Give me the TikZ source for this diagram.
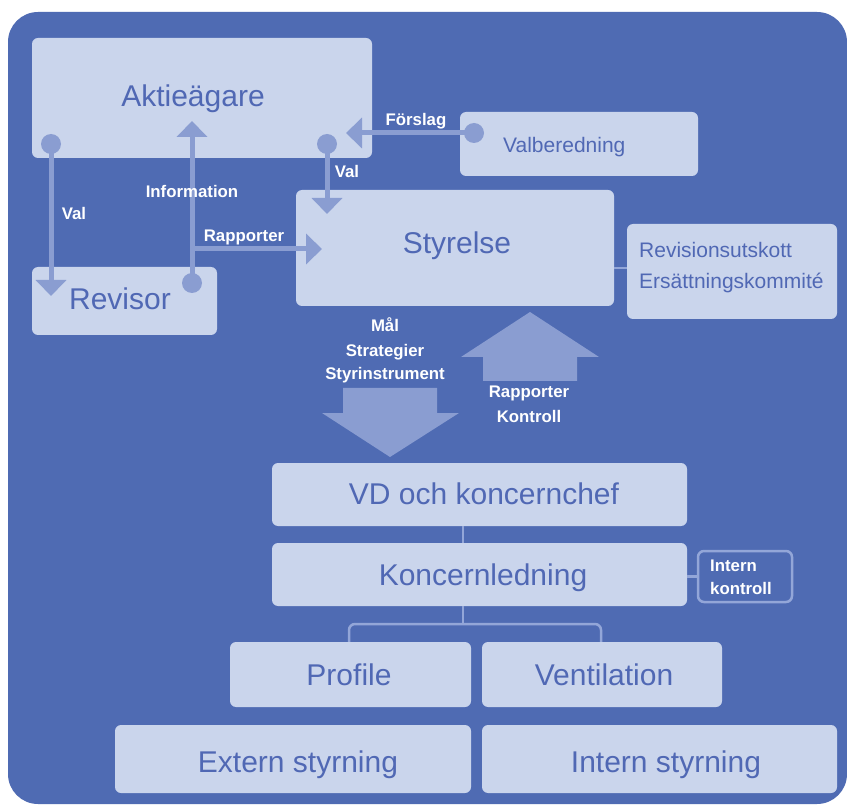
\documentclass[tikz,border=0pt]{standalone}
\usepackage{fontspec}
\setmainfont{Liberation Sans}
\usetikzlibrary{arrows.meta}
\definecolor{bgblue}{HTML}{4F6BB3}
\definecolor{boxfill}{HTML}{CAD5EC}
\definecolor{arrowc}{HTML}{8A9DD1}
\definecolor{boxtext}{HTML}{5068B4}
\definecolor{linec}{HTML}{93A6D8}
\tikzset{
  box/.style={fill=boxfill, draw=none, rounded corners=6pt},
  big/.style={text=boxtext, font=\fontsize{30}{32}\selectfont, anchor=base, inner sep=0pt},
  mid/.style={text=boxtext, font=\fontsize{21}{24}\selectfont, anchor=base west, inner sep=0pt},
  lbl/.style={text=white, font=\bfseries\fontsize{16.8}{24}\selectfont, anchor=base, inner sep=0pt},
  flow/.style={draw=arrowc, line width=5pt, -{Triangle[width=30pt,length=16pt]}},
  dot/.style={circle, fill=arrowc, minimum size=20pt, inner sep=0pt},
  thin/.style={draw=linec, line width=2.5pt},
  block/.style={fill=arrowc, draw=none}
}
\begin{document}
\begin{tikzpicture}[x=1pt,y=-1pt]
\useasboundingbox (0,0) rectangle (847,805);
\fill[white] (0,0) rectangle (847,805);
\fill[bgblue, rounded corners=30pt] (8,12) rectangle (847,804);

% boxes
\node[box, minimum width=340pt, minimum height=120pt] (akt) at (202,98) {};
\node[box, minimum width=185pt, minimum height=68pt] (rev) at (124.5,301) {};
\node[box, minimum width=318pt, minimum height=116pt] (sty) at (455,248) {};
\node[box, minimum width=238pt, minimum height=64pt] (val) at (579,144) {};
\node[box, minimum width=210pt, minimum height=95pt] (rut) at (732,271.5) {};
\node[box, minimum width=415pt, minimum height=63pt] (vd) at (479.5,494.5) {};
\node[box, minimum width=415pt, minimum height=63pt] (kl) at (479.5,574.5) {};
\node[draw=linec, line width=2.5pt, rounded corners=6pt, minimum width=94pt, minimum height=51pt, inner sep=0pt] (ik) at (745,576.5) {};
\node[box, minimum width=241pt, minimum height=65pt] (pro) at (350.5,674.5) {};
\node[box, minimum width=240pt, minimum height=65pt] (ven) at (602,674.5) {};
\node[box, minimum width=356pt, minimum height=68pt] (ext) at (293,759) {};
\node[box, minimum width=355pt, minimum height=68pt] (int) at (659.5,759) {};

% box texts
\node[big] (akt-t) at (193,107) {Aktieägare};
\node[big] (rev-t) at (120,310) {Revisor};
\node[big] (sty-t) at (457,254) {Styrelse};
\node[mid] (val-t) at (503,153) {Valberedning};
\node[mid] (rut-t1) at (639,258) {Revisionsutskott};
\node[mid] (rut-t2) at (639,289) {Ersättningskommité};
\node[big] (vd-t) at (484,504) {VD och koncernchef};
\node[big] (kl-t) at (483,585) {Koncernledning};
\node[lbl, anchor=base west] (ik-t1) at (710,571) {Intern};
\node[lbl, anchor=base west] (ik-t2) at (710,594) {kontroll};
\node[big] (pro-t) at (349,685) {Profile};
\node[big] (ven-t) at (604,685) {Ventilation};
\node[big] (ext-t) at (298,772) {Extern styrning};
\node[big] (int-t) at (666,772) {Intern styrning};

% thin connectors
\coordinate (c1) at (463,624);
\draw[thin] (sty.east |- 0,268) -- (rut.west |- 0,268);
\draw[thin] (vd.south -| c1) -- (kl.north -| c1);
\draw[thin] (kl.south -| c1) -- (c1);
\draw[thin, rounded corners=6pt] (pro.north -| 349,0) |- (c1) -| (ven.north -| 601,0);
\draw[thin] (kl.east |- ik) -- (ik.west);

% dots
\node[dot] (d1) at (51,144) {};
\node[dot] (d2) at (192,283) {};
\node[dot] (d3) at (327,144) {};
\node[dot] (d4) at (474,133) {};
\coordinate (t1) at (51,296);
\coordinate (t2) at (192,121);
\coordinate (j2) at (192,249);
\coordinate (t3) at (322,249);
\coordinate (t4) at (327,214);
\coordinate (t5) at (346,133);

\draw[flow] (d1.center) -- (t1);
\draw[flow] (d2.center) -- (t2);
\draw[flow] (j2) -- (t3);
\draw[flow] (d3.center) -- (t4);
\draw[flow] (d4.center) -- (t5);

% flow labels
\node[lbl] (l1) at (74,220) {Val};
\node[lbl] (l2) at (192,198) {Information};
\node[lbl] (l3) at (244,242) {Rapporter};
\node[lbl] (l4) at (347,178) {Val};
\node[lbl] (l5) at (416,126) {Förslag};

% block arrows
\fill[block] (343,388) -- (437,388) -- (437,413) -- (459,413) -- (390,457) -- (322,413) -- (343,413) -- cycle;
\fill[block] (483,381) -- (577,381) -- (577,357) -- (599,357) -- (530,312) -- (461,357) -- (483,357) -- cycle;
\node[lbl] (m1) at (385,332) {Mål};
\node[lbl] (m2) at (385,356) {Strategier};
\node[lbl] (m3) at (385,380) {Styrinstrument};
\node[lbl] (r1) at (529,398) {Rapporter};
\node[lbl] (r2) at (529,422) {Kontroll};
\end{tikzpicture}
\end{document}
